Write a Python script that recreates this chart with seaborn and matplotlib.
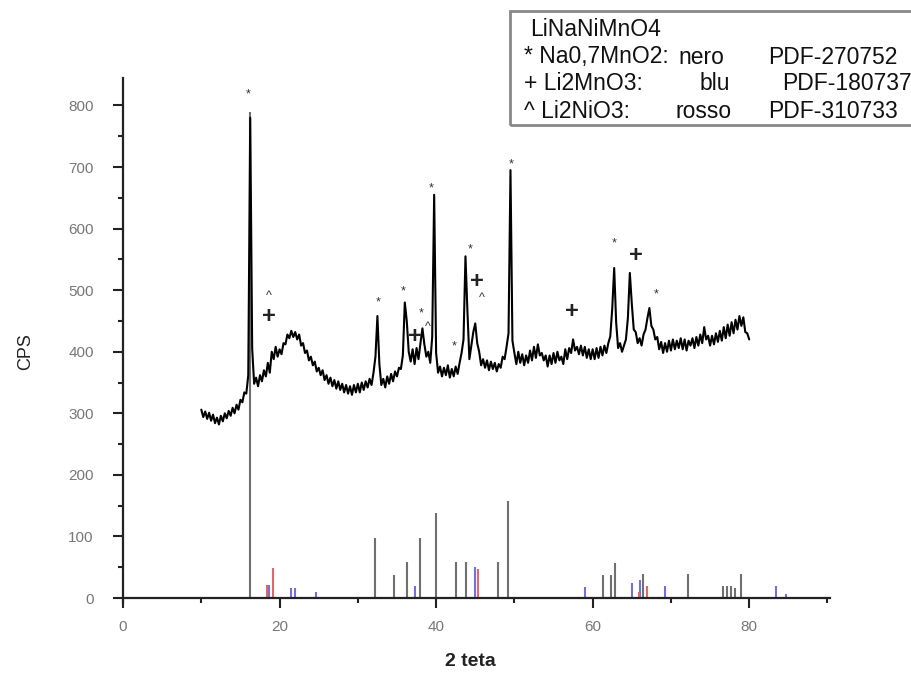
import numpy as np
import pandas as pd
import matplotlib
matplotlib.use("Agg")
import matplotlib.pyplot as plt
from matplotlib.patches import Rectangle
from matplotlib.ticker import MultipleLocator
import seaborn as sns

# ---------------- data ----------------
# measured XRD pattern, 2-theta from 10 to 80 deg, step 0.25
cps = [
    306, 294, 303, 291, 301, 288, 298, 284, 293, 282, 296, 287, 300, 292, 304, 296, 309, 300, 314, 306,
    322, 318, 334, 332, 362, 780, 405, 348, 358, 344, 362, 352, 370, 360, 382, 366, 400, 388, 408, 392,
    404, 396, 414, 412, 428, 422, 434, 424, 432, 420, 428, 410, 414, 398, 402, 386, 392, 378, 384, 368,
    374, 362, 370, 354, 362, 348, 358, 344, 354, 340, 352, 338, 348, 334, 346, 332, 344, 330, 346, 334,
    348, 334, 350, 338, 352, 342, 356, 346, 366, 392, 458, 380, 346, 356, 342, 360, 348, 364, 352, 368,
    360, 374, 372, 394, 480, 450, 400, 384, 404, 380, 406, 388, 414, 438, 412, 392, 400, 382, 424, 655,
    398, 366, 376, 360, 374, 362, 378, 358, 372, 360, 376, 364, 382, 398, 420, 555, 466, 388, 410, 432,
    446, 414, 400, 378, 388, 374, 386, 370, 384, 372, 382, 368, 380, 374, 392, 388, 408, 430, 695, 418,
    398, 380, 400, 382, 396, 378, 394, 382, 402, 386, 408, 390, 412, 394, 398, 386, 394, 376, 394, 380,
    398, 382, 400, 386, 392, 380, 404, 388, 406, 398, 420, 402, 408, 396, 410, 394, 408, 390, 404, 388,
    404, 388, 406, 390, 408, 394, 410, 398, 414, 425, 470, 536, 448, 406, 414, 400, 410, 420, 455, 528,
    478, 436, 432, 414, 422, 410, 428, 436, 455, 471, 442, 436, 420, 424, 404, 416, 398, 414, 400, 418,
    402, 420, 404, 418, 406, 422, 404, 420, 402, 418, 410, 422, 406, 424, 410, 428, 414, 440, 420, 426,
    410, 426, 412, 430, 416, 434, 418, 440, 422, 444, 426, 448, 430, 452, 436, 458, 442, 456, 432, 430,
    420,
]
two_theta = np.linspace(10, 80, len(cps))

# reference stick patterns
na_pos = [16.2, 32.2, 34.6, 36.3, 38.0, 40.0, 42.5, 43.8, 47.9, 49.2, 61.3, 62.3, 62.9, 66.4,
          72.2, 76.6, 77.2, 77.7, 78.2, 79.0]
na_int = [790, 98, 38, 59, 98, 138, 59, 59, 59, 157, 37, 37, 57, 39, 39, 20, 20, 20, 17, 39]
mn_pos = [18.6, 21.4, 22.0, 24.6, 37.3, 45.0, 59.0, 65.0, 66.1, 69.3, 83.4, 84.7]
mn_int = [21, 16, 16, 10, 20, 50, 18, 24, 29, 20, 20, 7]
ni_pos = [18.4, 19.2, 45.3, 65.9, 67.0]
ni_int = [21, 49, 48, 10, 20]

# peak annotation marks
star_x = [16.0, 32.6, 35.8, 38.1, 39.4, 42.3, 44.3, 49.6, 62.8, 68.1]
star_y = [818, 480, 498, 463, 665, 408, 566, 704, 576, 493]
plus_x = [18.6, 37.3, 45.2, 57.3, 65.5]
plus_y = [457, 424, 514, 465, 556]
caret_x = [18.6, 38.9, 45.9]
caret_y = [491, 441, 488]

legend_title = "LiNaNiMnO4"
legend_phase = ["* Na0,7MnO2:", "+ Li2MnO3:", "^ Li2NiO3:"]
legend_colour = ["nero", "blu", "rosso"]
legend_pdf = ["PDF-270752", "PDF-180737", "PDF-310733"]

x_ticks = [0, 20, 40, 60, 80]
y_ticks = [0, 100, 200, 300, 400, 500, 600, 700, 800]

# ---------------- plot ----------------
sns.set_style("ticks")
plt.rcParams["font.family"] = ["Liberation Sans", "DejaVu Sans"]

fig = plt.figure(figsize=(9.12, 6.76), dpi=100)
ax = fig.add_axes([0.1349, 0.108, 0.775, 0.777])

ax.vlines(na_pos, 0, na_int, colors="#707070", lw=1.5, zorder=2)
ax.vlines(mn_pos, 0, mn_int, colors="#7272d6", lw=1.5, zorder=2)
ax.vlines(ni_pos, 0, ni_int, colors="#e06868", lw=1.5, zorder=2)

df = pd.DataFrame({"2 teta": two_theta, "CPS": cps})
sns.lineplot(data=df, x="2 teta", y="CPS", color="black", lw=1.5, ax=ax, zorder=3)

for x, y in zip(star_x, star_y):
    ax.text(x, y, "*", ha="center", va="center", fontsize=9, color="#333")
for x, y in zip(plus_x, plus_y):
    ax.text(x, y, "+", ha="center", va="center", fontsize=17, fontweight="bold", color="#222")
for x, y in zip(caret_x, caret_y):
    ax.text(x, y, "^", ha="center", va="center", fontsize=9, color="#333")

ax.set_xlim(0, 90.3)
ax.set_ylim(-8, 845)
ax.spines["top"].set_visible(False)
ax.spines["right"].set_visible(False)
ax.spines["bottom"].set_position(("data", 0))
for s in ("left", "bottom"):
    ax.spines[s].set_linewidth(1.6)
    ax.spines[s].set_color("#222")

ax.set_xticks(x_ticks)
ax.set_yticks(y_ticks)
ax.xaxis.set_minor_locator(MultipleLocator(10))
ax.yaxis.set_minor_locator(MultipleLocator(50))
ax.tick_params(axis="both", which="major", length=7, width=1.5, color="#222",
               labelsize=11, labelcolor="#777")
ax.tick_params(axis="both", which="minor", length=3.5, width=1.5, color="#222")
ax.tick_params(axis="x", which="major", pad=9)
ax.tick_params(axis="y", which="major", pad=14)

ax.set_xlabel("")
ax.set_ylabel("")
fig.text(470 / 912, 1 - 662 / 676, "2 teta", ha="center", va="center", fontsize=14,
         fontweight="bold", color="#222")
fig.text(26 / 912, 1 - 352 / 676, "CPS", ha="center", va="center", rotation=90,
         fontsize=13, color="#222")

# legend box
fig.patches.append(Rectangle((510 / 912, 1 - 125 / 676), 0.6, 114 / 676,
                             transform=fig.transFigure, fill=False,
                             edgecolor="#888", lw=2, zorder=5))
fs = 16.5
fig.text(530 / 912, 1 - 30 / 676, legend_title, ha="left", va="center", fontsize=fs, color="#111")
ys = [57, 84, 111]
xb = [678, 700, 676]
xc = [768, 782, 768]
for i, yy in enumerate(ys):
    yf = 1 - yy / 676
    fig.text(524 / 912, yf, legend_phase[i], ha="left", va="center", fontsize=fs, color="#111")
    fig.text(xb[i] / 912, yf, legend_colour[i], ha="left", va="center", fontsize=fs, color="#111")
    fig.text(xc[i] / 912, yf, legend_pdf[i], ha="left", va="center", fontsize=fs, color="#111")

fig.savefig("out.png", dpi=100)
